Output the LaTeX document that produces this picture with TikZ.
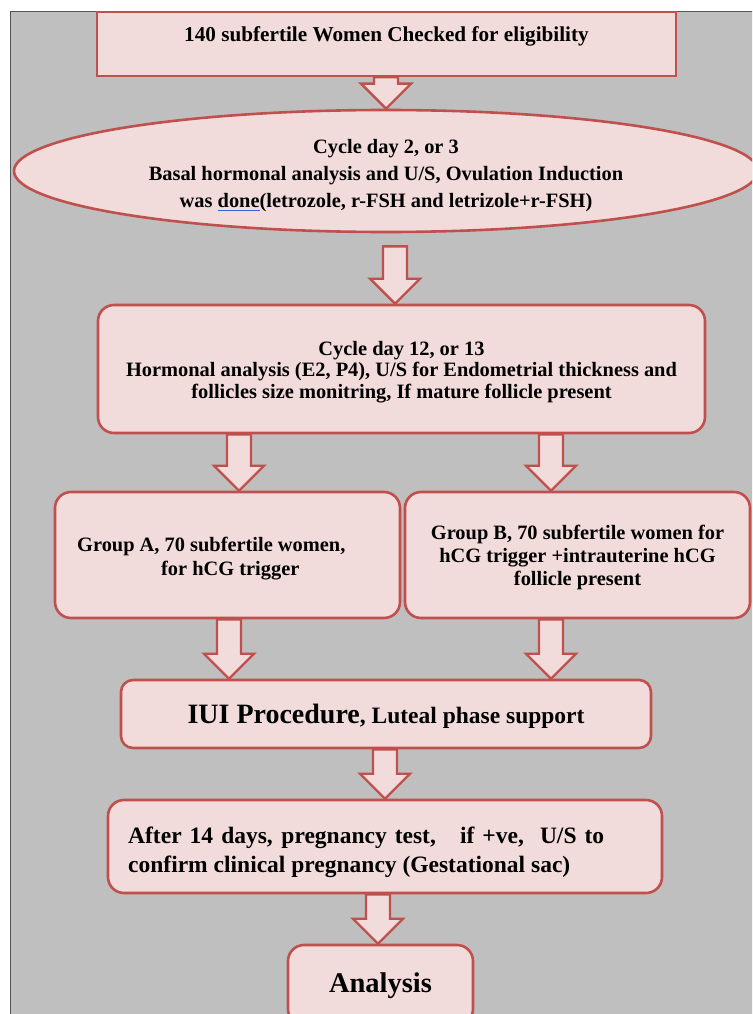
\documentclass[tikz,border=0pt]{standalone}
\usepackage{fontspec}
\setmainfont{Liberation Serif}
\usetikzlibrary{shapes.geometric,calc}
\definecolor{boxfill}{HTML}{F2DCDB}
\definecolor{boxline}{HTML}{C0504D}
\definecolor{bggray}{HTML}{BFBFBF}
\definecolor{frameline}{HTML}{555555}
\definecolor{spellblue}{HTML}{3366DD}
\newcommand\spellul[1]{\setbox0\hbox{#1}\rlap{\textcolor{spellblue}{\rule[-3pt]{\wd0}{1pt}}}\box0}
\newcommand\blockarrow[3]{%
  \draw[barrow] let \p1=(#2), \p2=(#3) in
   ({#1-12},\y1) -- ({#1-12},\y2+25pt) -- ({#1-25},\y2+25pt) -- (#1,\y2)
   -- ({#1+25},\y2+25pt) -- ({#1+12},\y2+25pt) -- ({#1+12},\y1) -- cycle;}
\tikzset{
  flowbox/.style={draw=boxline, fill=boxfill, line width=2.6pt, inner sep=0pt,
     font=\bfseries\fontsize{20.4}{22}\selectfont, align=center},
  roundbox/.style={flowbox, rounded corners=16pt},
  boxtext/.style={inner sep=0pt, align=center},
  barrow/.style={draw=boxline, fill=boxfill, line width=2.4pt, line join=miter},
}
\begin{document}
\begin{tikzpicture}[x=1pt,y=-1pt]
\useasboundingbox (0,0) rectangle (752,1014);
\clip (0,0) rectangle (752,1014);
\fill[white] (0,0) rectangle (752,1014);
\fill[bggray] (10,12) rectangle (760,1020);
\draw[frameline, line width=1pt] (10,1020) -- (10,12) -- (760,12);

\node[flowbox, minimum width=579, minimum height=64] (b1) at (386.5,44) {};
\node[boxtext, font=\bfseries\fontsize{21.2}{24}\selectfont] (b1t) at (386.5,36)
  {140 subfertile Women Checked for eligibility};

\node[flowbox, ellipse, minimum width=744, minimum height=122] (ell) at (386,171) {};
\node[boxtext, font=\bfseries\fontsize{20.4}{27}\selectfont] (ellt) at (386,176)
  {Cycle day 2, or 3\\Basal hormonal analysis and U/S, Ovulation Induction\\
   was \spellul{done}(letrozole, r-FSH and letrizole+r-FSH)};

\node[roundbox, minimum width=607, minimum height=128] (b3) at (401.5,369) {};
\node[boxtext, font=\bfseries\fontsize{20.4}{21.8}\selectfont] (b3t) at (401.5,372)
  {Cycle day 12, or 13\\Hormonal analysis (E2, P4), U/S for Endometrial thickness and\\
   follicles size monitring, If mature follicle present};

\node[roundbox, minimum width=345, minimum height=126] (ga) at (227.5,555) {};
\node[boxtext, font=\bfseries\fontsize{20.4}{24}\selectfont, align=left, anchor=west]
  (gat) at (77,559) {Group A, 70 subfertile women,\\\hspace*{84pt}for hCG trigger};

\node[roundbox, minimum width=345, minimum height=126] (gb) at (577.5,555) {};
\node[boxtext, font=\bfseries\fontsize{20.4}{23}\selectfont] (gbt) at (577.5,557)
  {Group B, 70 subfertile women for\\hCG trigger +intrauterine hCG\\follicle present};

\node[roundbox, rounded corners=12pt, minimum width=530, minimum height=68] (iui) at (386,714) {};
\node[boxtext, font=\bfseries] (iuit) at (386,716)
  {{\fontsize{28}{30}\selectfont IUI Procedure}{\fontsize{23.5}{30}\selectfont, Luteal phase support}};

\node[roundbox, minimum width=554, minimum height=93] (aft) at (385,846.5) {};
\node[boxtext, align=left, anchor=west, font=\bfseries\fontsize{23.5}{29}\selectfont] (aftt) at (128,852)
  {\makebox[476pt][s]{After 14 days, pregnancy test,\ \ \ if +ve,\ \ U/S to}\\confirm clinical pregnancy (Gestational sac)};

\node[roundbox, minimum width=185, minimum height=80] (an) at (380.5,985) {};
\node[boxtext, font=\bfseries\fontsize{28.5}{30}\selectfont] (ant) at (380.5,986) {Analysis};

\blockarrow{386}{b1.south}{ell.north}
\blockarrow{395}{$(ell.south)+(0,13)$}{b3.north}
\blockarrow{239}{b3.south}{ga.north}
\blockarrow{551}{b3.south}{gb.north}
\blockarrow{229}{ga.south}{iui.north}
\blockarrow{551}{gb.south}{iui.north}
\blockarrow{385}{iui.south}{aft.north}
\blockarrow{378}{aft.south}{an.north}
\end{tikzpicture}
\end{document}
